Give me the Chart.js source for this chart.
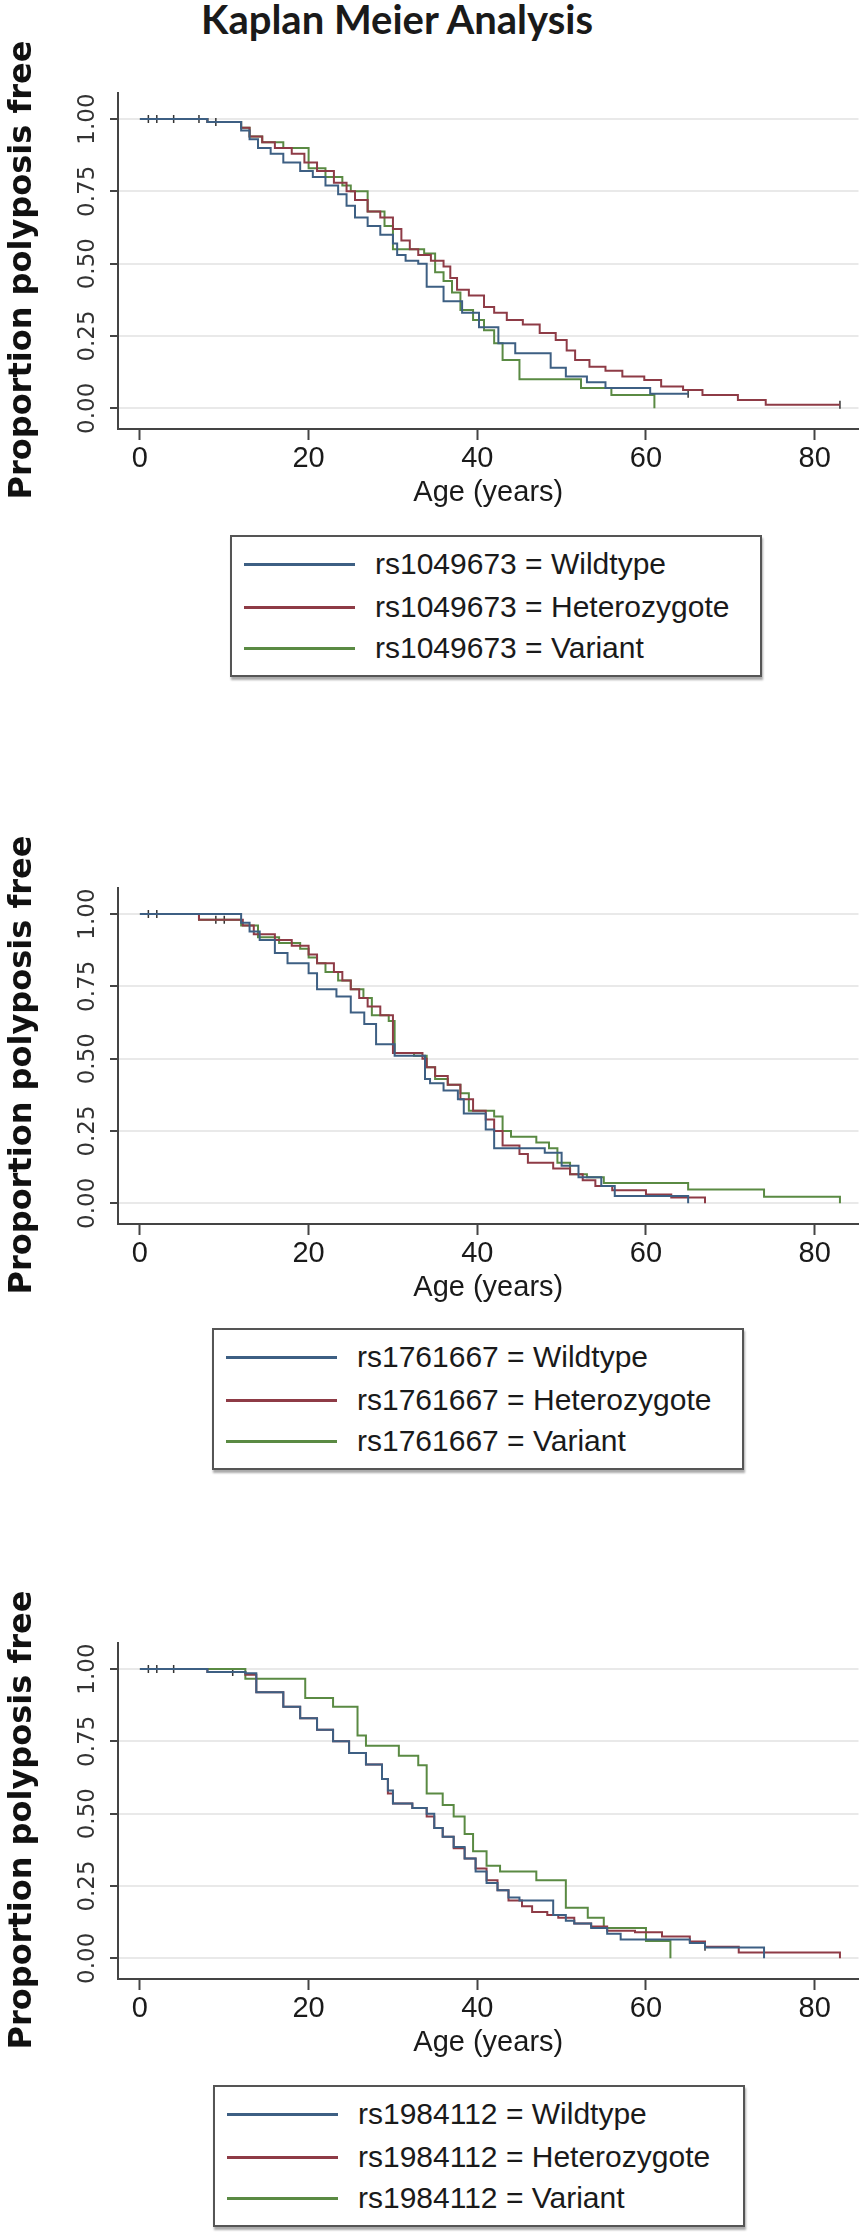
<!DOCTYPE html>
<html>
<head>
<meta charset="utf-8">
<script src="https://cdn.jsdelivr.net/npm/chart.js@4"></script>
<style>
  html, body { margin: 0; padding: 0; background: #fff; }
  body { position: relative; width: 864px; height: 2233px; overflow: hidden; }
  #title { position: absolute; left: 0; top: -4px; width: 794px; text-align: center;
           font: bold 40px Lato, sans-serif; color: #1a1a1a; line-height: 46px; }
  canvas { position: absolute; left: 0; }
  .ylab { position: absolute; width: 500px; height: 40px; line-height: 40px; text-align: center;
          font: bold 32px "DejaVu Sans", sans-serif; color: #111; transform: rotate(-90deg); white-space: nowrap; }
  .legend { position: absolute; width: 528px; height: 138px; border: 2px solid #555;
            box-shadow: 1px 3px 2px #aaa; background: #fff; }
  .legend .row { position: absolute; left: 0; width: 100%; height: 34px; }
  .legend .swatch { position: absolute; left: 12px; width: 111px; height: 3px; top: 16px; }
  .legend .txt { position: absolute; left: 143px; top: 0; line-height: 34px;
                 font: 30px "Liberation Sans", sans-serif; color: #1a1a1a; white-space: nowrap; }
</style>
</head>
<body>
<div id="title">Kaplan Meier Analysis</div>
<script>
// Kaplan Meier curves, polyposis free by genotype

const AGE_TICKS = [0, 20, 40, 60, 80];
const SURV_TICKS = [0, 0.25, 0.5, 0.75, 1];
const GROUPS = ["Wildtype", "Heterozygote", "Variant"];
const SNPS = ["rs1049673", "rs1761667", "rs1984112"];
const COLORS = ["#3d5f83", "#8e3b46", "#5a8a43"];

// [age, proportion free] after each step
const p1Wildtype = [[0,1],[8,0.99],[12,0.96],[13,0.93],[14,0.90],[15.5,0.88],[17,0.85],[19,0.82],[20.5,0.80],[22,0.77],[23.5,0.74],[24.5,0.70],[25.5,0.66],[27,0.63],[28.5,0.60],[30,0.57],[30.5,0.53],[31.5,0.51],[33,0.50],[34,0.42],[36,0.37],[38.2,0.33],[40.2,0.28],[42.5,0.225],[44.5,0.19],[48.7,0.14],[50.5,0.11],[53,0.09],[55.2,0.07],[60.5,0.05],[65,0.05]];
const p1Heterozygote = [[0,1],[8,0.99],[12,0.97],[13,0.94],[14.5,0.92],[16,0.90],[18,0.88],[19.5,0.85],[21,0.82],[23,0.78],[24.5,0.75],[25.5,0.72],[27,0.68],[28.5,0.66],[30,0.62],[31,0.58],[32,0.55],[33,0.53],[34.5,0.51],[36,0.49],[36.8,0.45],[37.6,0.41],[39,0.39],[40.8,0.35],[42,0.33],[43.5,0.305],[45.4,0.29],[47.4,0.26],[49.3,0.236],[50.6,0.20],[51.6,0.167],[53.3,0.144],[55.2,0.13],[57.2,0.11],[59.8,0.098],[61.8,0.075],[64.4,0.063],[66.7,0.046],[70.9,0.029],[74.2,0.012],[83,0.012]];
const p1Variant = [[0,1],[8,0.99],[12,0.97],[13,0.94],[14.5,0.92],[17,0.90],[20,0.83],[22,0.80],[24,0.77],[25,0.75],[27,0.68],[29,0.63],[30,0.55],[33.7,0.535],[35,0.47],[36,0.44],[37,0.40],[38,0.34],[39.5,0.305],[40.8,0.27],[42,0.225],[43,0.167],[45,0.10],[52.3,0.07],[55.9,0.046],[61,0]];
const p1Censor = [[1,1],[2,1],[4,1],[7,1],[9,0.99],[65,0.05],[83,0.012]];

const p2Wildtype = [[0,1],[12,0.97],[13,0.94],[14.2,0.91],[16,0.865],[17.5,0.83],[20,0.795],[21,0.74],[23.3,0.715],[25,0.66],[26.6,0.62],[28,0.55],[30.2,0.51],[33.8,0.43],[34.4,0.415],[36,0.39],[37.7,0.36],[38.4,0.31],[41,0.255],[42,0.19],[48,0.175],[50,0.13],[52,0.09],[54.7,0.06],[56.3,0.025],[65,0]];
const p2Heterozygote = [[0,1],[7,0.98],[12.2,0.96],[13.5,0.93],[16,0.91],[18,0.89],[20,0.86],[21,0.83],[23,0.80],[24,0.77],[25,0.74],[26,0.71],[27,0.68],[28.5,0.65],[30,0.52],[33.5,0.50],[34,0.47],[35,0.44],[36.5,0.41],[38,0.36],[39.5,0.32],[41,0.29],[42,0.25],[43,0.20],[45,0.17],[46,0.14],[49,0.12],[51,0.10],[52.5,0.08],[54,0.06],[56,0.045],[60,0.03],[63,0.02],[67,0]];
const p2Variant = [[0,1],[7,0.98],[12,0.96],[14,0.92],[16.5,0.90],[19,0.88],[20,0.85],[21,0.83],[22,0.80],[23.5,0.77],[25,0.74],[26.5,0.71],[27.5,0.65],[29.5,0.63],[30.2,0.52],[32.5,0.51],[34,0.47],[35,0.43],[36.5,0.41],[38,0.38],[39,0.32],[42,0.30],[43,0.25],[44,0.23],[47,0.21],[48.5,0.19],[49.5,0.14],[51,0.10],[53,0.09],[55,0.07],[65,0.048],[74,0.023],[83,0]];
const p2Censor = [[1,1],[2,1],[9,0.98],[10,0.98]];

const p3Wildtype = [[0,1],[8,0.99],[12.5,0.985],[13.8,0.92],[17,0.87],[19,0.83],[21,0.79],[22.9,0.75],[24.8,0.71],[26.8,0.67],[28.7,0.62],[29.4,0.58],[30,0.535],[32.3,0.52],[34,0.50],[34.9,0.45],[35.9,0.42],[37.2,0.385],[38.5,0.345],[39.8,0.30],[41.1,0.26],[42.4,0.235],[43.7,0.21],[45,0.20],[49,0.15],[50.5,0.13],[51.5,0.12],[53.5,0.105],[55.4,0.085],[57,0.065],[65.2,0.053],[67,0.037],[74,0]];
const p3Heterozygote = [[0,1],[8,0.99],[12.5,0.98],[13.8,0.92],[17,0.87],[19,0.83],[21,0.79],[22.9,0.75],[24.8,0.71],[26.8,0.67],[28.7,0.62],[29.4,0.57],[30,0.535],[32.3,0.52],[34,0.49],[34.9,0.45],[35.9,0.42],[37.2,0.38],[38.5,0.345],[39.8,0.31],[41.1,0.27],[42.4,0.235],[43.7,0.20],[45.3,0.18],[46.5,0.16],[48.3,0.15],[49.6,0.14],[51.5,0.12],[53.5,0.11],[55.4,0.095],[58.7,0.09],[61.9,0.075],[65.2,0.058],[67,0.04],[71,0.02],[83,0]];
const p3Variant = [[0,1],[12.5,0.966],[19.6,0.90],[22.9,0.87],[25.8,0.77],[26.8,0.735],[30.7,0.70],[33,0.667],[34,0.57],[35.9,0.53],[37.2,0.49],[38.5,0.43],[39.5,0.37],[41.1,0.32],[42.7,0.30],[47,0.27],[50.5,0.175],[53.1,0.14],[55,0.105],[60,0.06],[62.9,0]];
const p3Censor = [[1,1],[2,1],[4,1],[11,0.99],[67,0.04]];

const PANELS = [
  { snp: SNPS[0], series: [p1Wildtype, p1Heterozygote, p1Variant], censor: p1Censor },
  { snp: SNPS[1], series: [p2Wildtype, p2Heterozygote, p2Variant], censor: p2Censor },
  { snp: SNPS[2], series: [p3Wildtype, p3Heterozygote, p3Variant], censor: p3Censor },
];

// page placement of each panel (plot top edge, legend box)
const LAYOUT = [
  { axisTop: 93, legendLeft: 230, legendTop: 535 },
  { axisTop: 888, legendLeft: 212, legendTop: 1328 },
  { axisTop: 1643, legendLeft: 213, legendTop: 2085 },
];

const CANVAS_H = 440;
const AXIS_COL = "#444";

function toXY(pairs) {
  return pairs.map(function(p) { return { x: p[0], y: p[1] }; });
}

function makePanel(panel, pos) {
  const canvas = document.createElement("canvas");
  canvas.width = 864;
  canvas.height = CANVAS_H;
  canvas.style.top = (pos.axisTop - 13) + "px";
  document.body.appendChild(canvas);

  const datasets = panel.series.map(function(s, i) {
    return {
      label: panel.snp + " = " + GROUPS[i],
      data: toXY(s),
      stepped: "before",   // hold the level, then drop at the event age
      borderColor: COLORS[i],
      borderWidth: 2,
      pointRadius: 0,
      fill: false,
    };
  });
  datasets.push({
    label: "censored",
    data: toXY(panel.censor),
    showLine: false,
    pointStyle: "line",
    rotation: 90,
    pointRadius: 4,
    borderColor: "#333",
    borderWidth: 1.5,
  });

  const chart = new Chart(canvas.getContext("2d"), {
    type: "line",
    data: { datasets: datasets },
    options: {
      responsive: false,
      animation: false,
      layout: { padding: { top: 13, right: 4, left: 0, bottom: 0 } },
      plugins: { legend: { display: false }, tooltip: { enabled: false } },
      scales: {
        x: {
          type: "linear",
          min: -2.6,
          max: 85.2,
          afterBuildTicks: function(s) { s.ticks = AGE_TICKS.map(function(v) { return { value: v }; }); },
          afterFit: function(s) { s.height = 91; },
          grid: { drawOnChartArea: false, tickLength: 11, tickColor: AXIS_COL, tickWidth: 2 },
          border: { color: AXIS_COL, width: 2 },
          ticks: { font: { family: "Liberation Sans", size: 29 }, color: "#1a1a1a", padding: 2, maxRotation: 0, autoSkip: false },
          title: { display: true, text: "Age (years)", color: "#1a1a1a",
                   font: { family: "Liberation Sans", size: 29 }, padding: { top: 0, bottom: 10 } },
        },
        y: {
          type: "linear",
          min: -0.0716,
          max: 1.09,
          afterBuildTicks: function(s) { s.ticks = SURV_TICKS.map(function(v) { return { value: v }; }); },
          afterFit: function(s) { s.width = 118; },
          grid: { color: "#e9e9e9", lineWidth: 2, tickLength: 8, tickColor: AXIS_COL, tickWidth: 2 },
          border: { color: AXIS_COL, width: 2 },
          ticks: {
            font: { family: "DejaVu Sans", size: 23 },
            color: "#333",
            minRotation: 90,
            maxRotation: 90,
            crossAlign: "center",
            padding: -4,
            autoSkip: false,
            callback: function(v) { return Number(v).toFixed(2); },
          },
        },
      },
    },
  });

  // y axis title, longer than the axis so kept outside the canvas
  const ylab = document.createElement("div");
  ylab.className = "ylab";
  ylab.textContent = "Proportion polyposis free";
  ylab.style.left = (21 - 250) + "px";
  ylab.style.top = (pos.axisTop + 177 - 20) + "px";
  document.body.appendChild(ylab);

  // legend box built from the chart's datasets
  const box = document.createElement("div");
  box.className = "legend";
  box.style.left = pos.legendLeft + "px";
  box.style.top = pos.legendTop + "px";
  const rowMid = [27, 70, 111];
  chart.data.datasets.slice(0, 3).forEach(function(ds, i) {
    const row = document.createElement("div");
    row.className = "row";
    row.style.top = (rowMid[i] - 17) + "px";
    row.innerHTML = '<div class="swatch" style="background:' + ds.borderColor + '"></div>' +
                    '<div class="txt">' + ds.label + '</div>';
    box.appendChild(row);
  });
  document.body.appendChild(box);
}

PANELS.forEach(function(p, i) { makePanel(p, LAYOUT[i]); });
</script>
</body>
</html>
